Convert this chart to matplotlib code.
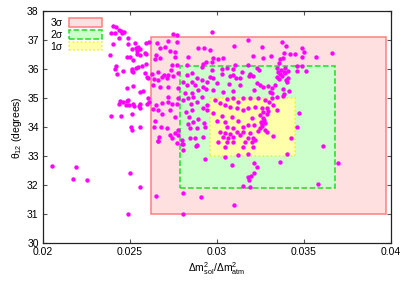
import numpy as np
import matplotlib
matplotlib.use("Agg")
import matplotlib.pyplot as plt
from matplotlib.patches import Rectangle

plt.rcParams['font.family'] = ['Liberation Sans', 'DejaVu Sans']
plt.rcParams['mathtext.fontset'] = 'custom'
plt.rcParams['mathtext.rm'] = 'Liberation Sans'
plt.rcParams['mathtext.it'] = 'Liberation Sans'

# allowed regions: (label, xmin, xmax, ymin, ymax)
region_labels = ['3σ', '2σ', '1σ']
region_x = [(0.0262, 0.0397), (0.0279, 0.0368), (0.0296, 0.0345)]
region_y = [(31.0, 37.1), (31.9, 36.1), (33.0, 35.0)]

# scan points: ratio of mass splittings and theta_12
ratio = [
    0.02052, 0.02172, 0.0219, 0.02253, 0.025, 0.02557, 0.02489, 0.02649, 0.02805, 0.02805,
    0.02908, 0.03098, 0.0358, 0.03149, 0.0319, 0.03178, 0.03195, 0.03184, 0.03213, 0.0323,
    0.03213, 0.03086, 0.02931, 0.03362, 0.03402, 0.03609, 0.03695, 0.03046, 0.03121, 0.03178,
    0.02661, 0.0277, 0.02805, 0.02805, 0.02885,
    # left cloud
    0.0240, 0.0242, 0.02391, 0.02414, 0.02437, 0.02448, 0.02454, 0.02466, 0.02437, 0.02489,
    0.0240, 0.02489, 0.02511, 0.02534, 0.02557, 0.02592, 0.02609, 0.02529, 0.02546, 0.0254,
    0.025, 0.02385, 0.02483, 0.0254, 0.02557, 0.02592, 0.02586,
    0.0242, 0.02414, 0.02425, 0.0246, 0.02511, 0.02517, 0.02534, 0.02546, 0.02569, 0.02592,
    0.02517, 0.02598, 0.02603, 0.02586, 0.02511,
    0.02483, 0.02517, 0.02575, 0.02557,
    0.02443, 0.0246, 0.02483, 0.02437, 0.02477, 0.02494, 0.02517, 0.02523, 0.02557, 0.02598,
    0.02552, 0.02557, 0.02489,
    0.02391, 0.02448, 0.02511, 0.02506, 0.02511, 0.02557, 0.02603, 0.02609,
    # 3 sigma, left of 2 sigma
    0.02655, 0.02672, 0.02718, 0.02747, 0.0277, 0.0277, 0.02701, 0.0273, 0.02759, 0.02649,
    0.02672, 0.02644, 0.02759, 0.02741, 0.02736, 0.0277,
    0.02626, 0.02661, 0.02684, 0.02695, 0.02718, 0.02747, 0.02776, 0.02638, 0.02661, 0.02713,
    0.02632, 0.02672, 0.02718, 0.02776,
    0.02649, 0.02684, 0.02718, 0.02718, 0.02741, 0.02776, 0.0277, 0.02632, 0.02661, 0.02684,
    0.0273, 0.02644, 0.02638, 0.02678, 0.02713, 0.02759, 0.02776, 0.02759, 0.02776, 0.02667,
    0.0273, 0.02741, 0.02661,
    # 2 sigma, left of 1 sigma
    0.02805, 0.02828, 0.02856, 0.02885, 0.02856, 0.02833, 0.02891, 0.02828, 0.02828, 0.02874,
    0.02891, 0.02816, 0.02856, 0.02805, 0.02833, 0.02862, 0.02885, 0.02851,
    0.02839, 0.02862, 0.02833, 0.02845, 0.02885, 0.02891, 0.02822, 0.02856, 0.02799, 0.02845,
    0.02874, 0.0288, 0.02799,
    # upper middle
    0.02971, 0.03178, 0.03098, 0.03259, 0.02925, 0.0296, 0.03207, 0.0331, 0.03264, 0.02977,
    0.03006, 0.03034, 0.02937, 0.02971, 0.0292, 0.02914, 0.03103, 0.03178, 0.0323, 0.03241,
    0.02971, 0.03029, 0.03057, 0.03092, 0.03144, 0.0319, 0.03184, 0.03207,
    0.0296, 0.02977, 0.03029, 0.03075, 0.03092, 0.03109, 0.03132,
    0.02914, 0.02943, 0.03, 0.03069, 0.03132, 0.0323, 0.03247, 0.03264, 0.03293, 0.03316,
    0.0292, 0.02937, 0.02977, 0.03034, 0.03092, 0.03213, 0.03305, 0.03316,
    # upper right
    0.03374, 0.03397, 0.03489, 0.035, 0.03661, 0.03569, 0.03385, 0.03379, 0.03362, 0.0342,
    0.03448, 0.03489, 0.03356, 0.0346, 0.03489, 0.03391, 0.03345, 0.03351, 0.03362, 0.03385,
    0.03408, 0.0346, 0.03511, 0.03345, 0.03374, 0.03408, 0.03402, 0.03333, 0.03385,
    0.03345, 0.03379, 0.03345, 0.03471, 0.0346, 0.03425,
    0.03368, 0.03391, 0.03356, 0.03397, 0.03379, 0.03414,
    # 1 sigma box
    0.02914, 0.02943, 0.02943, 0.0292, 0.02989, 0.03017, 0.03057, 0.03092, 0.03121, 0.03149,
    0.0319, 0.03236, 0.03276, 0.03299, 0.03316, 0.03322,
    0.03046, 0.03075, 0.03115, 0.03149, 0.03178, 0.03218, 0.03259, 0.03287,
    0.02977, 0.03029, 0.03086, 0.03121, 0.03201, 0.03247, 0.03264,
    0.03, 0.03046, 0.03057, 0.03092, 0.03149, 0.03178, 0.03213, 0.03259, 0.03276, 0.02925,
    0.02931, 0.03247, 0.03276,
    0.03017, 0.03046, 0.03075, 0.03115, 0.03149, 0.0319, 0.03236, 0.03287,
    0.0292, 0.03034, 0.03063, 0.03092, 0.03132, 0.03178, 0.03207, 0.03218, 0.03322,
    0.03006, 0.03057, 0.03092, 0.03161, 0.03201, 0.03207, 0.03046, 0.03149,
    0.03264, 0.03287, 0.03270, 0.03253, 0.03293, 0.03259,
]
theta12 = [
    32.66, 32.21, 32.62, 32.17, 32.41, 31.93, 31.0, 31.62, 31.0, 31.72,
    31.59, 31.31, 32.03, 31.97, 31.93, 32.28, 32.31, 32.17, 32.41, 32.62,
    32.76, 32.69, 32.90, 32.79, 33.07, 33.34, 32.76, 32.97, 33.03, 33.07,
    33.52, 33.45, 33.41, 33.21, 33.38,
    # left cloud
    37.48, 37.45, 37.24, 37.24, 37.34, 37.31, 37.24, 37.28, 37.07, 37.07,
    36.86, 36.86, 36.69, 36.72, 36.69, 36.90, 36.93, 36.90, 36.76, 36.62,
    36.41, 36.48, 36.41, 36.52, 36.48, 36.52, 36.55,
    36.10, 36.0, 35.83, 35.93, 35.93, 35.90, 36.03, 36.07, 36.10, 36.17,
    36.31, 35.72, 35.69, 35.86, 36.0,
    35.34, 35.41, 35.24, 35.21,
    34.90, 34.86, 34.90, 34.79, 34.76, 34.76, 34.79, 34.72, 34.79, 34.79,
    34.72, 34.66, 34.93,
    34.38, 34.38, 34.45, 34.0, 33.90, 34.0, 35.0, 34.86,
    # 3 sigma, left of 2 sigma
    36.90, 36.72, 36.97, 37.21, 37.17, 36.93, 36.76, 36.62, 36.59, 36.48,
    36.38, 36.34, 36.41, 36.14, 35.97, 36.14,
    35.83, 35.90, 35.72, 35.79, 35.79, 35.76, 35.86, 35.66, 35.62, 35.69,
    35.45, 35.38, 35.38, 35.34,
    34.76, 34.83, 35.03, 34.86, 34.79, 35.0, 34.79, 34.62, 34.59, 34.45,
    34.59, 34.21, 34.0, 34.0, 33.97, 34.34, 33.90, 33.79, 33.72, 33.66,
    33.72, 33.62, 33.52,
    # 2 sigma, left of 1 sigma
    35.55, 35.79, 35.86, 35.69, 35.55, 36.41, 36.72, 36.14, 35.45, 35.45,
    35.28, 35.17, 35.17, 34.93, 35.0, 35.03, 34.86, 34.79,
    34.34, 34.17, 34.10, 33.97, 33.97, 34.28, 34.52, 34.59, 33.55, 33.62,
    33.62, 33.34, 33.41,
    # upper middle
    37.28, 37.0, 36.79, 36.76, 36.72, 36.66, 36.45, 36.45, 36.38, 36.38,
    36.34, 36.38, 36.24, 36.24, 36.17, 36.07, 36.14, 36.14, 36.03, 35.97,
    35.97, 36.0, 36.03, 36.0, 35.90, 35.83, 35.76, 35.76,
    35.72, 35.69, 35.83, 35.76, 35.79, 35.69, 35.69,
    35.62, 35.55, 35.52, 35.48, 35.45, 35.52, 35.45, 35.38, 35.41, 35.34,
    35.38, 35.31, 35.28, 35.21, 35.24, 35.28, 35.21, 35.17,
    # upper right
    36.93, 36.79, 36.72, 36.59, 36.55, 36.41, 36.55, 36.38, 36.34, 36.52,
    36.52, 36.41, 36.21, 36.10, 36.10, 36.03, 36.03, 35.90, 35.83, 35.90,
    35.93, 35.93, 35.93, 35.72, 35.76, 35.69, 35.55, 35.45, 35.14,
    35.03, 35.07, 34.59, 34.48, 34.0, 33.62,
    35.97, 35.86, 35.66, 35.62, 35.31, 35.24,
    # 1 sigma box
    35.03, 34.76, 34.59, 34.66, 34.93, 34.83, 34.97, 35.0, 34.86, 35.0,
    35.0, 35.0, 34.93, 34.86, 35.0, 34.76,
    34.76, 34.69, 34.66, 34.59, 34.66, 34.69, 34.66, 34.66,
    34.48, 34.38, 34.34, 34.21, 34.31, 34.41, 34.31,
    34.21, 34.17, 34.0, 33.97, 34.0, 34.07, 34.07, 34.10, 34.14, 34.14,
    34.0, 33.97, 33.90,
    33.83, 33.79, 33.76, 33.83, 33.83, 33.79, 33.86, 33.83,
    33.66, 33.66, 33.62, 33.66, 33.72, 33.62, 33.62, 33.55, 33.69,
    33.48, 33.48, 33.48, 33.48, 33.48, 33.31, 33.31, 33.31,
    34.52, 34.45, 34.24, 34.17, 34.55, 34.03,
]

fig = plt.figure(figsize=(4.09, 2.85), dpi=100)
ax = fig.add_axes([0.105, 0.147, 0.851, 0.814])

fills = ['#ffe0e0', '#ccffcc', '#ffffaa']
edges = ['#ff7f7f', '#22dd22', '#eeee33']
styles = ['-', '--', ':']
for lab, (x0, x1), (y0, y1), fc, ec, ls in zip(region_labels, region_x, region_y, fills, edges, styles):
    ax.add_patch(Rectangle((x0, y0), x1 - x0, y1 - y0, facecolor=fc, edgecolor=ec,
                           linestyle=ls, linewidth=1.1, label=lab, zorder=1))

ax.scatter(ratio, theta12, s=10, color='#ff00ff', linewidths=0, zorder=3)

ax.set_xlim(0.02, 0.04)
ax.set_ylim(30, 38)
ax.set_xticks([0.02, 0.025, 0.03, 0.035, 0.04])
ax.set_xticklabels(['0.02', '0.025', '0.03', '0.035', '0.04'])
ax.set_yticks(range(30, 39))
ax.tick_params(direction='in', top=True, right=True, labelsize=7.5, length=3,
               color='#555555', pad=3)
for sp in ax.spines.values():
    sp.set_color('#222222')
    sp.set_linewidth(0.9)

ax.set_xlabel(r'$\Delta$m$^2_{\rm sol}$/$\Delta$m$^2_{\rm atm}$', fontsize=7.5, labelpad=2)
ax.set_ylabel(r'$\theta_{12}$ (degrees)', fontsize=7.5, labelpad=2)

ax.legend(loc='upper left', frameon=False, fontsize=7.5, markerfirst=False,
          handlelength=3.2, handleheight=0.9, labelspacing=0.15,
          borderaxespad=0.3, handletextpad=0.6)

fig.savefig('out.png', dpi=100)
